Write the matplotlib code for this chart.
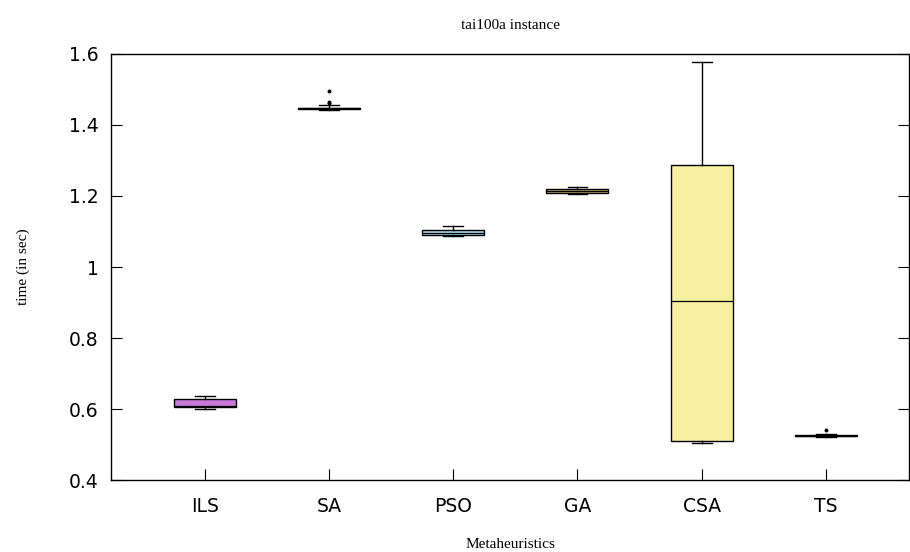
import matplotlib
matplotlib.use("Agg")
import matplotlib.pyplot as plt

# boxplot summary values (seconds)
methods = ["ILS", "SA", "PSO", "GA", "CSA", "TS"]
whislo = [0.601, 1.442, 1.087, 1.206, 0.504, 0.521]
q1 = [0.605, 1.444, 1.089, 1.209, 0.511, 0.523]
med = [0.608, 1.447, 1.097, 1.214, 0.905, 0.525]
q3 = [0.627, 1.449, 1.104, 1.220, 1.286, 0.527]
whishi = [0.637, 1.457, 1.115, 1.226, 1.577, 0.529]
fliers = [[], [1.462, 1.466, 1.496], [], [], [], [0.540]]
colors = ["#c77ad8", "#2a2a2a", "#a8d8ec", "#c9a96e", "#f6f0a0", "#2a2a2a"]

stats = []
for i, name in enumerate(methods):
    stats.append({
        "label": name, "whislo": whislo[i], "q1": q1[i], "med": med[i],
        "q3": q3[i], "whishi": whishi[i], "fliers": fliers[i],
    })

fig = plt.figure(figsize=(9.1, 5.52), dpi=100)
ax = fig.add_axes([0.122, 0.1304, 0.877, 0.7718])

pos = list(range(1, len(methods) + 1))
bp = ax.bxp(stats, positions=pos, widths=0.5, patch_artist=True,
            showfliers=True, capwidths=0.16,
            boxprops=dict(edgecolor="black", linewidth=1.0),
            medianprops=dict(color="black", linewidth=0.9),
            whiskerprops=dict(color="black", linewidth=1.0),
            capprops=dict(color="black", linewidth=1.0),
            flierprops=dict(marker="o", markersize=1.8, markerfacecolor="black",
                            markeredgecolor="black"))
for patch, c in zip(bp["boxes"], colors):
    patch.set_facecolor(c)

ax.set_xlim(0.245, 6.67)
ax.set_ylim(0.4, 1.6)
ax.set_yticks([0.4, 0.6, 0.8, 1.0, 1.2, 1.4, 1.6])
ax.set_yticklabels(["0.4", "0.6", "0.8", "1", "1.2", "1.4", "1.6"])
ax.set_xticks(pos)
ax.set_xticklabels(methods)
ax.tick_params(axis="both", direction="in", labelsize=13.5, length=8, width=0.8,
               top=False, right=True, pad=9)
ax.tick_params(axis="x", pad=12)
for s in ax.spines.values():
    s.set_linewidth(1.0)

serif = ["Liberation Serif", "DejaVu Serif"]
ax.set_title("tai100a instance", fontsize=11, family=serif, pad=18)
ax.set_xlabel("Metaheuristics", fontsize=11, family=serif, labelpad=16)
ax.set_ylabel("time (in sec)", fontsize=11, family=serif, labelpad=28)

fig.savefig("out.png", dpi=100)
